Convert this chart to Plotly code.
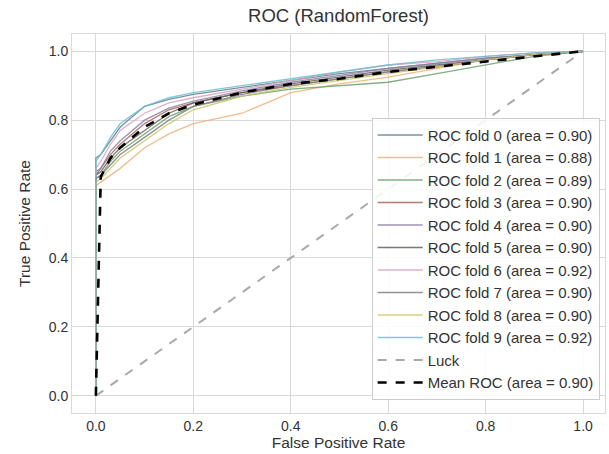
import plotly.graph_objects as go

fold_fpr = [0, 0, 0.01, 0.03, 0.05, 0.1, 0.15, 0.2, 0.3, 0.4, 0.5, 0.6, 0.7, 0.8, 0.9, 1.0]
fold0_tpr = [0, 0.69, 0.70, 0.74, 0.78, 0.84, 0.86, 0.875, 0.895, 0.915, 0.935, 0.95, 0.965, 0.98, 0.99, 1.0]
fold1_tpr = [0, 0.61, 0.62, 0.64, 0.66, 0.72, 0.76, 0.79, 0.82, 0.88, 0.905, 0.925, 0.95, 0.975, 0.99, 1.0]
fold2_tpr = [0, 0.63, 0.64, 0.68, 0.71, 0.76, 0.81, 0.84, 0.87, 0.89, 0.90, 0.91, 0.935, 0.96, 0.985, 1.0]
fold3_tpr = [0, 0.64, 0.66, 0.70, 0.73, 0.79, 0.83, 0.85, 0.88, 0.90, 0.92, 0.94, 0.955, 0.975, 0.99, 1.0]
fold4_tpr = [0, 0.65, 0.66, 0.71, 0.74, 0.80, 0.835, 0.855, 0.885, 0.91, 0.93, 0.95, 0.965, 0.98, 0.99, 1.0]
fold5_tpr = [0, 0.64, 0.65, 0.69, 0.72, 0.77, 0.82, 0.85, 0.88, 0.905, 0.925, 0.945, 0.96, 0.975, 0.99, 1.0]
fold6_tpr = [0, 0.66, 0.68, 0.73, 0.77, 0.82, 0.85, 0.865, 0.89, 0.915, 0.94, 0.96, 0.97, 0.985, 0.995, 1.0]
fold7_tpr = [0, 0.63, 0.64, 0.67, 0.70, 0.75, 0.80, 0.84, 0.875, 0.90, 0.92, 0.94, 0.955, 0.975, 0.99, 1.0]
fold8_tpr = [0, 0.62, 0.63, 0.66, 0.69, 0.74, 0.79, 0.83, 0.87, 0.895, 0.915, 0.935, 0.955, 0.975, 0.99, 1.0]
fold9_tpr = [0, 0.68, 0.70, 0.75, 0.79, 0.84, 0.865, 0.88, 0.90, 0.92, 0.94, 0.96, 0.975, 0.985, 0.995, 1.0]
fold_auc = [0.90, 0.88, 0.89, 0.90, 0.90, 0.90, 0.92, 0.90, 0.90, 0.92]

mean_fpr = [0, 0.01, 0.03, 0.05, 0.1, 0.15, 0.2, 0.3, 0.4, 0.5, 0.6, 0.7, 0.8, 0.9, 1.0]
mean_tpr = [0, 0.635, 0.69, 0.72, 0.78, 0.82, 0.845, 0.88, 0.905, 0.92, 0.94, 0.955, 0.97, 0.985, 1.0]
mean_auc = 0.90

luck_x = [0, 1]
luck_y = [0, 1]

tick_vals = [0, 0.2, 0.4, 0.6, 0.8, 1.0]
tick_text = ["0.0", "0.2", "0.4", "0.6", "0.8", "1.0"]

fold_colors = ["#5f7d93", "#f0b27a", "#6e9f6e", "#a0665a", "#8d7fa3",
               "#6b5c58", "#d7a3c0", "#7f7f7f", "#c9c66a", "#6fc0cf"]

fold_tprs = [fold0_tpr, fold1_tpr, fold2_tpr, fold3_tpr, fold4_tpr,
             fold5_tpr, fold6_tpr, fold7_tpr, fold8_tpr, fold9_tpr]

fig = go.Figure()
for i, tpr in enumerate(fold_tprs):
    fig.add_trace(go.Scatter(
        x=fold_fpr, y=tpr, mode="lines",
        line=dict(color=fold_colors[i], width=1.3), opacity=0.85,
        name=f"ROC fold {i} (area = {fold_auc[i]:.2f})"))

fig.add_trace(go.Scatter(x=luck_x, y=luck_y, mode="lines",
                         line=dict(color="rgba(160,160,160,0.9)", width=2, dash="dash"),
                         name="Luck"))
fig.add_trace(go.Scatter(x=mean_fpr, y=mean_tpr, mode="lines",
                         line=dict(color="black", width=2.6, dash="dash"),
                         name=f"Mean ROC (area = {mean_auc:.2f})"))

axis_common = dict(tickvals=tick_vals, ticktext=tick_text,
                   showgrid=True, gridcolor="#d9d9d9", gridwidth=1,
                   zeroline=False, showline=True, linecolor="#d9d9d9", mirror=True,
                   ticks="", tickfont=dict(size=14, color="#333"),
                   title_font=dict(size=15.5, color="#333"))

fig.update_layout(
    width=609, height=454,
    margin=dict(l=72, r=4, t=34, b=41),
    paper_bgcolor="white", plot_bgcolor="white",
    font=dict(family="Liberation Sans, Arial, sans-serif", color="#333"),
    title=dict(text="ROC (RandomForest)", x=0.5, xref="paper", xanchor="center",
               y=0.965, yref="container", yanchor="middle", font=dict(size=18.5, color="#333")),
    xaxis=dict(axis_common, range=[-0.049, 1.045],
               title=dict(text="False Positive Rate", standoff=2)),
    yaxis=dict(axis_common, range=[-0.05, 1.05],
               title=dict(text="True Positive Rate", standoff=14)),
    legend=dict(x=0.99, y=0.035, xanchor="right", yanchor="bottom",
                bgcolor="rgba(255,255,255,0.85)", bordercolor="#cccccc", borderwidth=1,
                font=dict(size=15, color="#333"), tracegroupgap=0,
                itemwidth=45),
    showlegend=True,
)

fig.write_html("out.html")
